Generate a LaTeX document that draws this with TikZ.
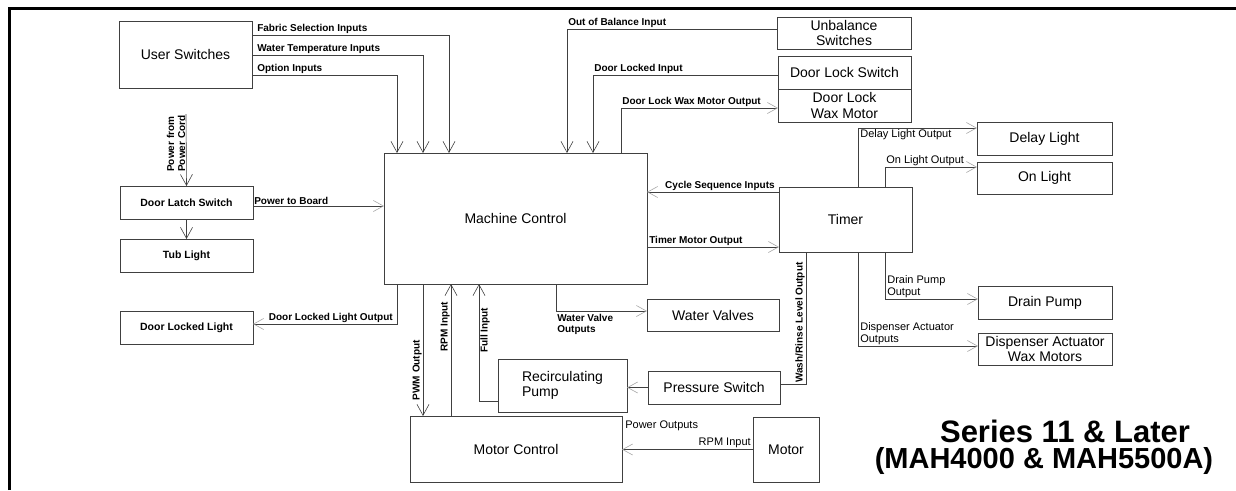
\documentclass[tikz,border=0pt]{standalone}
\usepackage{fontspec}
\setmainfont{Liberation Sans}
\usepackage{tikz}
\usetikzlibrary{arrows.meta, positioning, calc}

\begin{document}
\begin{tikzpicture}[
  x=1pt, y=-1pt,
  box/.style={rectangle, draw=black!75, line width=0.6pt, align=center, inner sep=0pt, outer sep=0pt, font=\fontsize{14}{15.5}\selectfont},
  smallbox/.style={box, minimum width=133pt, minimum height=33pt, font=\bfseries\fontsize{10.5}{12}\selectfont},
  lbl/.style={inner sep=1pt, align=left, font=\bfseries\fontsize{10}{11}\selectfont},
  lblr/.style={inner sep=1pt, align=left, font=\fontsize{11}{11.5}\selectfont},
  wire/.style={draw=black!75, line width=0.6pt},
  arr/.style={wire, -{Straight Barb[length=11pt, width=12pt]}},
  farr/.style={wire, -{Straight Barb[length=10pt, width=11pt, color=black!35]}}
]
  \useasboundingbox (0,0) rectangle (1236,490);

  % left column
  \node[box, minimum width=133pt, minimum height=67pt] (us) at (185.5,54.5) {User Switches};
  \node[smallbox] (latch) at (186.5,202.5) {Door Latch Switch};
  \node[smallbox, below=20pt of latch] (tub) {Tub Light};
  \node[smallbox] (lockedlight) at (186.5,327.5) {Door Locked Light};

  % centre
  \node[box, minimum width=263pt, minimum height=131pt] (mc) at (515.5,218.5) {Machine Control};
  \node[box, minimum width=132pt, minimum height=32pt] (valves) at (713,315) {Water Valves};
  \node[box, minimum width=129pt, minimum height=53pt, align=left] (recirc) at (562.5,385.5) {Recirculating\\Pump};
  \node[box, minimum width=132pt, minimum height=33pt] (pressure) at (714,387.5) {Pressure Switch};
  \node[box, minimum width=212pt, minimum height=66pt] (motorctrl) at (516,449) {Motor Control};
  \node[box, minimum width=66pt, minimum height=65pt] (motor) at (786,449.5) {Motor};

  % right column
  \node[box, minimum width=134pt, minimum height=32pt] (unbal) at (844,33) {Unbalance\\Switches};
  \node[box, minimum width=133pt, minimum height=33pt] (lockswitch) at (844.5,72.5) {Door Lock Switch};
  \node[box, minimum width=133pt, minimum height=33pt, below=0pt of lockswitch] (waxmotor) {Door Lock\\Wax Motor};
  \node[box, minimum width=133pt, minimum height=65pt] (timer) at (845.5,219.5) {Timer};
  \node[box, minimum width=135pt, minimum height=33pt] (delay) at (1044.5,138.5) {Delay Light};
  \node[box, minimum width=135pt, minimum height=32pt] (onlight) at (1044.5,178) {On Light};
  \node[box, minimum width=134pt, minimum height=33pt] (drain) at (1045,302.5) {Drain Pump};
  \node[box, minimum width=134pt, minimum height=32pt] (dispenser) at (1045,349) {Dispenser Actuator\\Wax Motors};

  % title
  \node[font=\bfseries\fontsize{31}{33}\selectfont] (series) at (1065,431) {Series 11 \& Later};
  \node[font=\bfseries\fontsize{29}{31}\selectfont] (models) at (1044,461) {(MAH4000 \& MAH5500A)};

  \coordinate (cord) at (186,114);
  \coordinate (pb) at ([yshift=-3.5pt]latch.east);
  \coordinate (cs) at ([yshift=-5pt]timer.north west);
  \coordinate (tm) at ([yshift=5pt]timer.south west);

  % user inputs
  \draw[arr] ([yshift=-14pt]us.north east) -| node[lbl, pos=0, anchor=south west, xshift=4pt] {Fabric Selection Inputs} ([xshift=65pt]mc.north west);
  \draw[arr] ([yshift=-34pt]us.north east) -| node[lbl, pos=0, anchor=south west, xshift=4pt] {Water Temperature Inputs} ([xshift=39pt]mc.north west);
  \draw[arr] ([yshift=-54pt]us.north east) -| node[lbl, pos=0, anchor=south west, xshift=4pt] {Option Inputs} ([xshift=13pt]mc.north west);

  % power
  \draw[arr] (cord) -- node[lbl, pos=0.82, rotate=90, anchor=south west] {Power from\\Power Cord} (latch.north);
  \draw[farr] (pb) -- node[lbl, pos=0, anchor=south west] {Power to Board} (pb -| mc.west);
  \draw[arr] (latch.south) -- (tub.north);
  \draw[farr] ([xshift=13pt]mc.south west) |- node[lbl, pos=0.5, anchor=south east, xshift=-3pt] {Door Locked Light Output} ([yshift=3.5pt]lockedlight.east);

  % door lock and unbalance
  \draw[arr] ([yshift=4pt]unbal.west) -| node[lbl, pos=0.5, anchor=south west] {Out of Balance Input} ([xshift=183pt]mc.north west);
  \draw[arr] ([yshift=-2.5pt]lockswitch.west) -| node[lbl, pos=0.5, anchor=south west] {Door Locked Input} ([xshift=209pt]mc.north west);
  \draw[farr] ([xshift=237pt]mc.north west) |- node[lbl, pos=0.5, anchor=south west] {Door Lock Wax Motor Output} ([yshift=-2.5pt]waxmotor.west);

  % timer
  \draw[farr] (cs) -- node[lbl, pos=0, anchor=south east, xshift=-3pt] {Cycle Sequence Inputs} (cs -| mc.east);
  \draw[farr] (tm -| mc.east) -- node[lbl, pos=0, anchor=south west, xshift=1pt] {Timer Motor Output} (tm);
  \draw[farr] ([xshift=79pt]timer.north west) |- node[lblr, pos=0.5, anchor=north west, xshift=1pt] {Delay Light Output} ([yshift=10.5pt]delay.west);
  \draw[farr] ([xshift=106pt]timer.north west) |- node[lblr, pos=0.5, anchor=south west] {On Light Output} ([yshift=11pt]onlight.west);
  \draw[farr] ([xshift=106pt]timer.south west) |- node[lblr, pos=0.5, anchor=south west, xshift=1pt] {Drain Pump\\Output} ([yshift=3.5pt]drain.west);
  \draw[farr] ([xshift=79pt]timer.south west) |- node[lblr, pos=0.5, anchor=south west, xshift=1pt] {Dispenser Actuator\\Outputs} ([yshift=3pt]dispenser.west);
  \draw[wire] ([xshift=27pt]timer.south west) |- node[lbl, pos=0.5, rotate=90, anchor=south west] {Wash/Rinse Level Output} ([yshift=3.5pt]pressure.east);

  % lower outputs
  \draw[farr] ([xshift=172pt]mc.south west) |- node[lbl, pos=0.5, anchor=north west, yshift=-2pt] {Water Valve\\Outputs} ([yshift=4pt]valves.west);
  \draw[farr] (pressure.west) -- (pressure.west -| recirc.east);
  \draw[arr] ([yshift=-15.5pt]recirc.west) -| node[lbl, pos=0.7, rotate=90, anchor=north west] {Full Input} ([xshift=95pt]mc.south west);
  \draw[arr] ([xshift=39pt]mc.south west) -- node[lbl, pos=0.89, rotate=90, anchor=south west] {PWM Output} ([xshift=13pt]motorctrl.north west);
  \draw[arr] ([xshift=41pt]motorctrl.north west) -- node[lbl, pos=0.48, rotate=90, anchor=south west] {RPM Input} ([xshift=67pt]mc.south west);
  \draw[farr] (motor.west) -- node[lblr, pos=0, anchor=south east, xshift=-1pt] {RPM Input}
    node[lblr, pos=1, anchor=north west, xshift=2pt, yshift=30pt] {Power Outputs} (motor.west -| motorctrl.east);

  % frame
  \draw[line width=3pt] (9.5,490) |- (1236,8.5);
\end{tikzpicture}
\end{document}
